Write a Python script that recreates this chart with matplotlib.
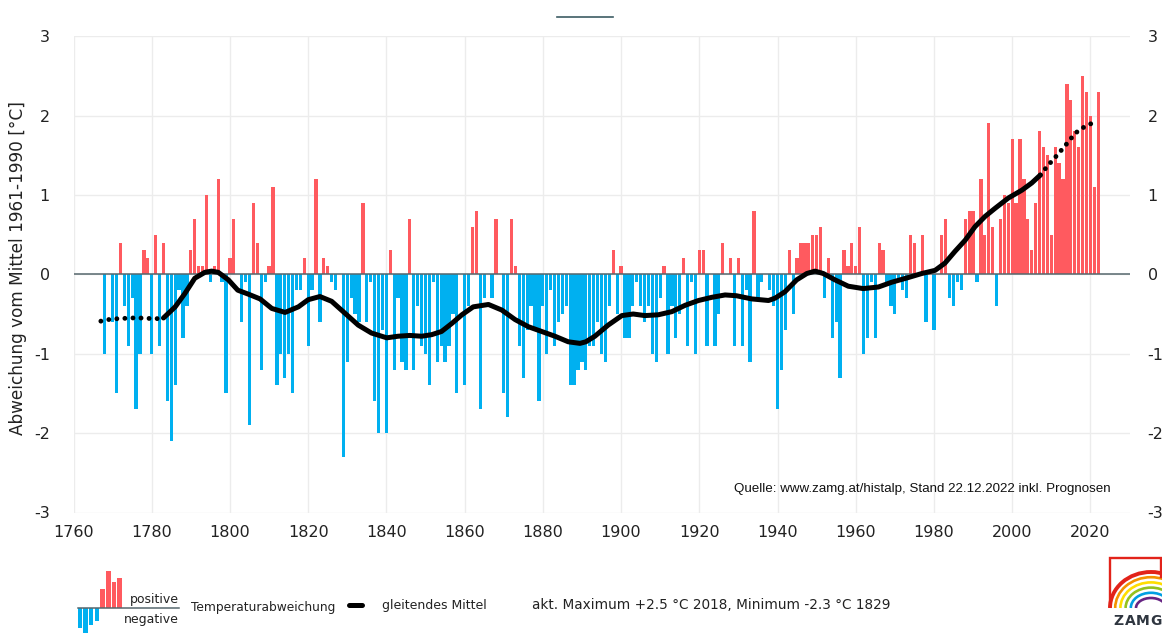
import numpy as np
import matplotlib
matplotlib.use("Agg")
import matplotlib.pyplot as plt
from matplotlib.patches import Arc
from matplotlib.lines import Line2D

# annual temperature anomaly vs. 1961-1990 mean [°C], 1768-2022
first_year = 1768
anomaly = [
    -1.0, 0.0, -0.6, -1.5, 0.4, -0.4, -0.9, -0.3, -1.7, -1.0, 0.3, 0.2,   # 1768-1779
    -1.0, 0.5, -0.9, 0.4, -1.6, -2.1, -1.4, -0.2, -0.8, -0.4,             # 1780-1789
    0.3, 0.7, 0.1, 0.1, 1.0, -0.1, 0.1, 1.2, -0.1, -1.5,                  # 1790-1799
    0.2, 0.7, 0.0, -0.6, -0.1, -1.9, 0.9, 0.4, -1.2, -0.1,                # 1800-1809
    0.1, 1.1, -1.4, -1.0, -1.3, -1.0, -1.5, -0.2, -0.2, 0.2,              # 1810-1819
    -0.9, -0.2, 1.2, -0.6, 0.2, 0.1, -0.1, -0.2, 0.0, -2.3,               # 1820-1829
    -1.1, -0.3, -0.5, -0.6, 0.9, -0.6, -0.1, -1.6, -2.0, -0.7,            # 1830-1839
    -2.0, 0.3, -1.2, -0.3, -1.1, -1.2, 0.7, -1.2, -0.4, -0.9,             # 1840-1849
    -1.0, -1.4, -0.1, -1.1, -0.9, -1.1, -0.9, -0.5, -1.5, 0.0,            # 1850-1859
    -1.4, -0.4, 0.6, 0.8, -1.7, -0.3, 0.0, -0.3, 0.7, 0.0,                # 1860-1869
    -1.5, -1.8, 0.7, 0.1, -0.9, -1.3, -0.7, -0.4, -0.7, -1.6,             # 1870-1879
    -0.4, -1.0, -0.2, -0.9, -0.6, -0.5, -0.4, -1.4, -1.4, -1.2,           # 1880-1889
    -1.1, -1.2, -0.9, -0.9, -0.6, -1.0, -1.1, -0.4, 0.3, -0.5,            # 1890-1899
    0.1, -0.8, -0.8, -0.4, -0.1, -0.4, -0.6, -0.4, -1.0, -1.1,            # 1900-1909
    -0.3, 0.1, -1.0, -0.4, -0.8, -0.5, 0.2, -0.9, -0.1, -1.0,             # 1910-1919
    0.3, 0.3, -0.9, 0.0, -0.9, -0.5, 0.4, 0.0, 0.2, -0.9,                 # 1920-1929
    0.2, -0.9, -0.2, -1.1, 0.8, -0.3, -0.1, 0.0, -0.2, -0.4,              # 1930-1939
    -1.7, -1.2, -0.7, 0.3, -0.5, 0.2, 0.4, 0.4, 0.4, 0.5,                 # 1940-1949
    0.5, 0.6, -0.3, 0.2, -0.8, -0.6, -1.3, 0.3, 0.1, 0.4,                 # 1950-1959
    0.1, 0.6, -1.0, -0.8, -0.1, -0.8, 0.4, 0.3, -0.1, -0.4,               # 1960-1969
    -0.5, -0.1, -0.2, -0.3, 0.5, 0.4, 0.0, 0.5, -0.6, 0.0,                # 1970-1979
    -0.7, 0.0, 0.5, 0.7, -0.3, -0.4, -0.1, -0.2, 0.7, 0.8,                # 1980-1989
    0.8, -0.1, 1.2, 0.5, 1.9, 0.6, -0.4, 0.7, 1.0, 0.9,                   # 1990-1999
    1.7, 0.9, 1.7, 1.2, 0.7, 0.3, 0.9, 1.8, 1.6, 1.5,                     # 2000-2009
    0.5, 1.6, 1.4, 1.2, 2.4, 2.2, 1.8, 1.6, 2.5, 2.3,                     # 2010-2019
    2.0, 1.1, 2.3,                                                        # 2020-2022
]
years = np.arange(first_year, first_year + len(anomaly))

# gleitendes Mittel (solid part)
smooth_years = [1783, 1786, 1788.5, 1791, 1793.6, 1795.3, 1797, 1799.6, 1802, 1804.7,
                1807.7, 1810.7, 1814.1, 1817.5, 1820, 1823, 1826, 1829.4, 1832.8, 1836.2,
                1840.1, 1843, 1846, 1849, 1851.6, 1854.1, 1856.7, 1859.3, 1862.2, 1866.1,
                1869.5, 1872.9, 1876.3, 1879.7, 1883.1, 1886.5, 1889.5, 1891, 1893.3, 1896.7,
                1900.2, 1903.1, 1906.1, 1909.5, 1913, 1916.4, 1919.8, 1923.2, 1926.6, 1929.5,
                1933.4, 1937.7, 1939.4, 1941.9, 1944.9, 1947.5, 1949.6, 1951.7, 1954.7, 1958.1,
                1961.9, 1965.8, 1969.2, 1973.5, 1976.9, 1980.3, 1982.8, 1985.4, 1988, 1990.5,
                1993.1, 1995.6, 1999, 2002.5, 2005, 2007.2]
smooth_vals = [-0.55, -0.41, -0.24, -0.05, 0.025, 0.04, 0.025, -0.07, -0.2, -0.25,
               -0.31, -0.43, -0.48, -0.41, -0.32, -0.28, -0.34, -0.49, -0.64, -0.74,
               -0.8, -0.78, -0.77, -0.78, -0.76, -0.72, -0.62, -0.51, -0.41, -0.38,
               -0.45, -0.57, -0.66, -0.72, -0.78, -0.85, -0.87, -0.85, -0.78, -0.64,
               -0.52, -0.5, -0.52, -0.51, -0.47, -0.39, -0.33, -0.29, -0.26, -0.27,
               -0.31, -0.33, -0.3, -0.22, -0.07, 0.01, 0.04, 0.01, -0.07, -0.15,
               -0.18, -0.16, -0.1, -0.04, 0.01, 0.05, 0.14, 0.29, 0.43, 0.6,
               0.73, 0.83, 0.96, 1.06, 1.15, 1.25]

# dotted ends of the running mean
head_years = [1767, 1769, 1771, 1773, 1775, 1777, 1779, 1781, 1783]
head_vals = [-0.59, -0.57, -0.56, -0.555, -0.55, -0.55, -0.555, -0.56, -0.55]
tail_years = [2007.2, 2008, 2009.3, 2010.6, 2012, 2013.4, 2014.7, 2016, 2017.5, 2019.4, 2021.2]
tail_vals = [1.25, 1.3, 1.38, 1.45, 1.53, 1.61, 1.69, 1.77, 1.83, 1.88, 1.92]

xticks = [1760, 1780, 1800, 1820, 1840, 1860, 1880, 1900, 1920, 1940, 1960, 1980, 2000, 2020]
yticks = [-3, -2, -1, 0, 1, 2, 3]

# little legend icon (heights in pixels)
icon_vals = [-20, -25, -17, -13, 19, 37, 26, 30]

RED = '#ff5a5f'
BLUE = '#00b0f0'
W, H = 1165, 633

plt.rcParams['axes.unicode_minus'] = False
plt.rcParams['font.family'] = ['DejaVu Sans']


def fx(px):
    return px / W


def fy(py):
    return 1 - py / H


fig = plt.figure(figsize=(W / 100, H / 100), dpi=100)
ax = fig.add_axes([fx(73.5), fy(512.5), fx(1129.5) - fx(73.5), fy(36.1) - fy(512.5)])

cols = [RED if v > 0 else BLUE for v in anomaly]
ax.bar(years, anomaly, width=0.84, color=cols, linewidth=0, zorder=2)
ax.axhline(0, color='#56676d', lw=1.1, zorder=3)
ax.plot(smooth_years, smooth_vals, color='black', lw=3.6,
        solid_capstyle='round', solid_joinstyle='round', zorder=4)
for xs, ys in ((head_years, head_vals), (tail_years, tail_vals)):
    ax.plot(xs, ys, color='black', lw=3.5, linestyle=(0, (0.01, 1.65)),
            dash_capstyle='round', zorder=4)

ax.set_xlim(1760, 2030)
ax.set_ylim(-3, 3)
ax.set_xticks(xticks)
ax.set_yticks(yticks)
ax.grid(True, color='#ececec', lw=1)
ax.set_axisbelow(True)
for s in ax.spines.values():
    s.set_visible(False)
ax.tick_params(length=0, labelsize=11.5, labelcolor='#222222')
ax.tick_params(axis='x', pad=9)
ax.tick_params(axis='y', pad=17)

ax2 = ax.twinx()
ax2.set_ylim(-3, 3)
ax2.set_yticks(yticks)
for s in ax2.spines.values():
    s.set_visible(False)
ax2.tick_params(length=0, labelsize=11.5, labelcolor='#222222', pad=13)

fig.text(fx(18), fy(268), 'Abweichung vom Mittel 1961-1990 [°C]', rotation=90,
         ha='center', va='center', fontsize=12.2, color='#222222')
fig.text(fx(1111), fy(489), 'Quelle: www.zamg.at/histalp, Stand 22.12.2022 inkl. Prognosen',
         ha='right', va='center', fontsize=9.6, family='Liberation Sans', color='#111111')

# short line above the plot
fig.add_artist(Line2D([fx(557), fx(613)], [fy(17), fy(17)], color='#3d5c64', lw=1.2))

# legend: bar icon
iax = fig.add_axes([fx(77), fy(633.2), fx(122.5) - fx(77), fy(570.7) - fy(633.2)])
iax.bar(range(len(icon_vals)), icon_vals, width=0.8,
        color=[RED if v > 0 else BLUE for v in icon_vals], linewidth=0)
iax.set_xlim(-0.5, len(icon_vals) - 0.5)
iax.set_ylim(-25.5, 37)
iax.axis('off')
fig.add_artist(Line2D([fx(77.6), fx(179)], [fy(607.7), fy(607.7)], color='#56676d', lw=1.1))
fig.text(fx(179), fy(599), 'positive', ha='right', va='center', fontsize=9, color='#222222')
fig.text(fx(179), fy(620), 'negative', ha='right', va='center', fontsize=9, color='#222222')
fig.text(fx(191), fy(608), 'Temperaturabweichung', ha='left', va='center', fontsize=8.8, color='#222222')
fig.add_artist(Line2D([fx(349), fx(362)], [fy(605), fy(605)], color='black', lw=3.6,
                      solid_capstyle='round'))
fig.text(fx(382), fy(605), 'gleitendes Mittel', ha='left', va='center', fontsize=9, color='#222222')
fig.text(fx(532), fy(605), 'akt. Maximum +2.5 °C 2018, Minimum -2.3 °C 1829',
         ha='left', va='center', fontsize=9.8, color='#222222')

# ZAMG logo
lax = fig.add_axes([fx(1105), fy(633), fx(1161.5) - fx(1105), fy(553) - fy(633)])
lax.set_xlim(1105, 1161.5)
lax.set_ylim(633, 553)
lax.axis('off')
lax.plot([1110, 1110, 1161, 1161], [606, 558, 558, 577], color='#e2231a', lw=1.7,
         solid_joinstyle='miter')
rainbow = ['#e2231a', '#f39200', '#ffdd00', '#95c11f', '#009fe3', '#662483']
for k, c in enumerate(rainbow):
    lax.add_patch(Arc((1151, 608), 2 * (41 - 5.2 * k), 2 * (36 - 5.2 * k),
                      theta1=180, theta2=360, color=c, lw=2.8 if k == 0 else 1.9))
for ch, x in zip('ZAMG', [1118.5, 1130, 1143, 1155.5]):
    lax.text(x, 621, ch, ha='center', va='center', fontsize=10, fontweight='bold',
             color='#2f3640', clip_on=False)

plt.savefig('out.png', dpi=100)
